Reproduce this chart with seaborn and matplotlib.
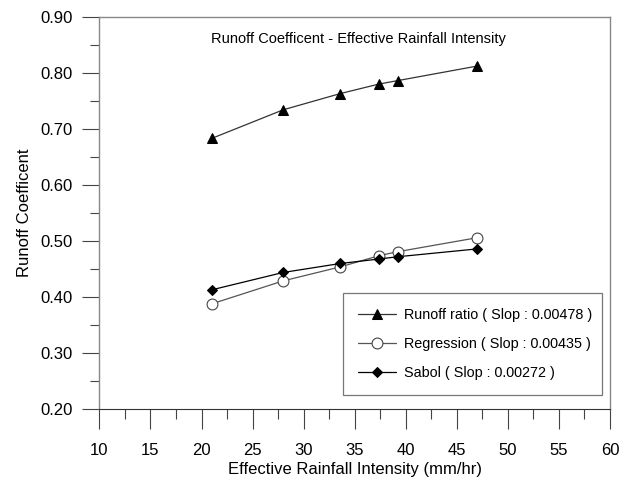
import numpy as np
import pandas as pd
import matplotlib
matplotlib.use("Agg")
import matplotlib.pyplot as plt
import seaborn as sns
from matplotlib.ticker import MultipleLocator, FormatStrFormatter

# Data
intensity = [21.0, 28.0, 33.6, 37.4, 39.2, 47.0]
runoff_ratio = [0.683, 0.734, 0.763, 0.780, 0.786, 0.812]
regression = [0.388, 0.429, 0.454, 0.474, 0.481, 0.506]
sabol = [0.413, 0.444, 0.460, 0.468, 0.472, 0.486]

labels = [
    "Runoff ratio ( Slop : 0.00478 )",
    "Regression ( Slop : 0.00435 )",
    "Sabol ( Slop : 0.00272 )",
]

sns.set_style("ticks")
plt.rcParams["font.family"] = ["Liberation Sans", "DejaVu Sans"]
plt.rcParams["text.color"] = "black"
plt.rcParams["axes.labelcolor"] = "black"
plt.rcParams["xtick.labelcolor"] = "black"
plt.rcParams["ytick.labelcolor"] = "black"

fig = plt.figure(figsize=(6.25, 4.84), dpi=100)
ax = fig.add_axes([0.159, 0.1543, 0.817, 0.8112])

sns.lineplot(x=intensity, y=runoff_ratio, ax=ax, color="#333333", linewidth=0.9,
             marker="^", markersize=7.8, markerfacecolor="black", markeredgecolor="black",
             label=labels[0])
sns.lineplot(x=intensity, y=regression, ax=ax, color="#555555", linewidth=0.9,
             marker="o", markersize=7.8, markerfacecolor="white", markeredgecolor="#444444",
             markeredgewidth=0.8, label=labels[1])
sns.lineplot(x=intensity, y=sabol, ax=ax, color="black", linewidth=0.9,
             marker="D", markersize=5.5, markerfacecolor="black", markeredgecolor="black",
             label=labels[2])

ax.set_xlim(10, 60)
ax.set_ylim(0.20, 0.90)
ax.xaxis.set_major_locator(MultipleLocator(5))
ax.xaxis.set_minor_locator(MultipleLocator(2.5))
ax.yaxis.set_major_locator(MultipleLocator(0.1))
ax.yaxis.set_minor_locator(MultipleLocator(0.05))
ax.yaxis.set_major_formatter(FormatStrFormatter("%.2f"))

ax.tick_params(axis="x", which="major", direction="out", length=14.4, width=0.8,
               color="#444444", pad=10, labelsize=12)
ax.tick_params(axis="x", which="minor", direction="out", length=7.2, width=0.8, color="#444444")
ax.tick_params(axis="y", which="major", direction="out", length=12, width=0.8,
               color="#444444", pad=7, labelsize=12)
ax.tick_params(axis="y", which="minor", direction="out", length=6.3, width=0.8, color="#444444")

for side in ["top", "left", "right"]:
    ax.spines[side].set_color("#888888")
    ax.spines[side].set_linewidth(1.0)
ax.spines["bottom"].set_color("#333333")
ax.spines["bottom"].set_linewidth(0.8)

ax.set_xlabel("Effective Rainfall Intensity (mm/hr)", fontsize=12, labelpad=3)
ax.set_ylabel("Runoff Coefficent", fontsize=12, labelpad=6)
ax.text(0.508, 0.943, "Runoff Coefficent - Effective Rainfall Intensity",
        transform=ax.transAxes, ha="center", va="center", fontsize=10.5)

leg = ax.legend(loc="lower left", bbox_to_anchor=(0.477, 0.0364, 0.507, 0.262),
                mode="expand", fontsize=10.4, frameon=True, fancybox=False,
                handlelength=2.6, handletextpad=0.55, labelspacing=1.04,
                borderpad=1.05, borderaxespad=0)
leg.get_frame().set_edgecolor("#555555")
leg.get_frame().set_linewidth(0.9)

fig.savefig("out.png", dpi=100)
